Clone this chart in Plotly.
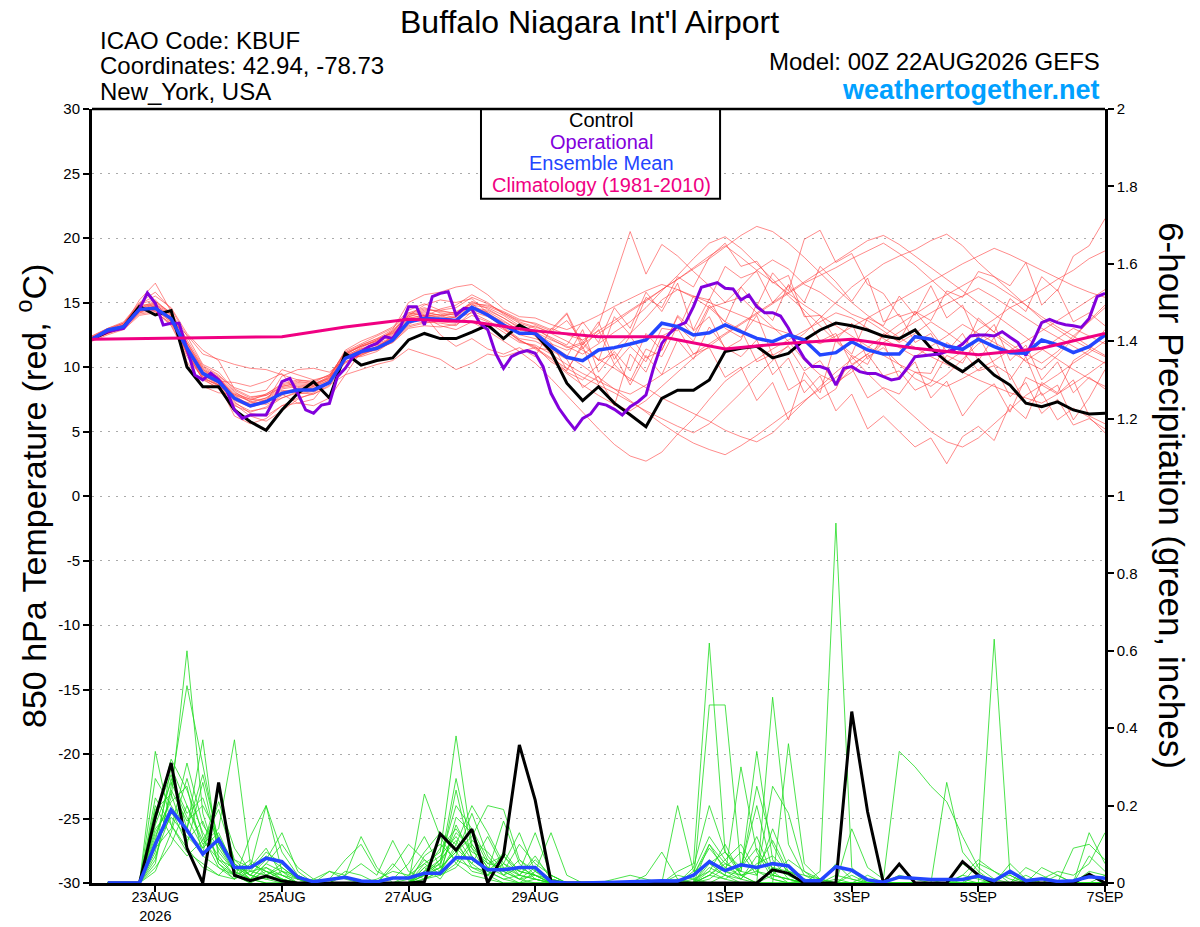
import pandas as pd
import plotly.graph_objects as go

# forecast times (GEFS 00Z 22AUG2026)
times = pd.date_range("2026-08-22 00:00", periods=65, freq="6h")
times_3h = pd.date_range("2026-08-22 00:00", periods=129, freq="3h")
clim_days = pd.date_range("2026-08-22", periods=17, freq="D")
precip_times = times[1:]

x_ticks = ["2026-08-23", "2026-08-25", "2026-08-27", "2026-08-29",
           "2026-09-01", "2026-09-03", "2026-09-05", "2026-09-07"]
x_labels = ["23AUG<br>2026", "25AUG", "27AUG", "29AUG", "1SEP", "3SEP", "5SEP", "7SEP"]
temp_ticks = [-30, -25, -20, -15, -10, -5, 0, 5, 10, 15, 20, 25, 30]
temp_labels = ["-30", "-25", "-20", "-15", "-10", "-5", "0", "5", "10", "15", "20", "25", "30"]
precip_ticks = [0, 0.2, 0.4, 0.6, 0.8, 1.0, 1.2, 1.4, 1.6, 1.8, 2.0]
precip_labels = ["0", "0.2", "0.4", "0.6", "0.8", "1", "1.2", "1.4", "1.6", "1.8", "2"]

# 850 hPa temperature (C)
control_t = [
    12.15, 12.74, 13.1, 14.7, 14.03, 14.37, 10.0, 8.47, 8.47, 6.67,
    5.76, 5.1, 6.67, 7.96, 8.86, 7.6, 11.06, 10.15, 10.5, 10.7,
    12.1, 12.6, 12.2, 12.2, 12.7, 13.25, 12.2, 13.25, 12.6, 11.2,
    8.74, 7.4, 8.47, 7.2, 6.3, 5.37, 7.57, 8.2, 8.2, 9.0,
    11.2, 11.45, 11.6, 10.7, 11.06, 12.1, 12.87, 13.4, 13.2, 12.87,
    12.4, 12.2, 12.87, 11.45, 10.4, 9.64, 10.54, 9.38, 8.6, 7.2,
    6.93, 7.3, 6.67, 6.36, 6.41,
]
mean_t = [
    12.15, 12.87, 13.13, 14.47, 14.55, 13.75, 11.45, 9.51, 8.86, 7.57,
    6.98, 7.31, 7.96, 8.22, 8.22, 8.79, 10.67, 11.19, 11.45, 12.09,
    13.51, 13.75, 13.7, 13.6, 14.63, 14.03, 13.26, 12.61, 12.61, 11.58,
    10.75, 10.49, 11.32, 11.5, 11.78, 12.09, 13.39, 13.13, 12.48, 12.65,
    13.26, 12.74, 12.22, 11.96, 12.5, 12.09, 10.93, 11.11, 11.96, 11.32,
    11.0, 11.0, 12.35, 12.15, 11.63, 11.37, 12.15, 11.58, 11.11, 11.06,
    12.09, 11.71, 11.11, 11.58, 12.48,
]
# operational run, 3-hourly
oper_t = [
    12.15, 12.5, 12.75, 12.87, 13.0, 13.8, 14.5, 15.75, 14.94, 13.26,
    13.39, 13.39, 11.45, 9.38, 9.0, 9.51, 9.0, 8.22, 6.67, 6.02,
    6.28, 6.28, 6.28, 7.44, 8.86, 9.12, 7.96, 6.67, 6.41, 7.05,
    7.18, 9.25, 9.9, 10.8, 11.19, 11.58, 11.83, 12.35, 12.22, 13.13,
    14.68, 14.68, 13.26, 15.45, 15.71, 15.84, 14.03, 14.55, 14.5,
    13.39, 12.9, 11.05, 9.9, 10.8, 11.11, 11.27, 11.06, 10.03, 7.96,
    6.8, 5.94, 5.17, 6.02, 6.36, 7.18, 7.05, 6.72, 6.28, 6.92,
    7.31, 7.83, 10.03, 11.83, 12.61, 13.18, 13.44, 14.68, 16.18, 16.36,
    16.54, 16.1, 16.05, 15.19, 15.58, 14.68, 14.21, 14.21, 13.95, 13.0,
    11.71, 10.67, 10.03, 10.03, 9.82, 8.6, 9.9, 10.03, 9.64, 9.5,
    9.5, 9.25, 9.0, 9.12, 9.9, 10.8, 10.85, 10.9, 11.0, 11.19,
    11.37, 11.78, 12.4, 12.48, 12.48, 12.4, 12.74, 12.3, 11.89, 10.9,
    12.09, 13.44, 13.7, 13.44, 13.28, 13.2, 13.07, 13.77, 15.45, 15.71,
]
# climatology 1981-2010, daily
clim_t = [12.15, 12.2, 12.3, 12.35, 13.1, 13.7, 13.5, 12.8, 12.35,
          12.35, 11.4, 11.85, 12.15, 11.45, 10.95, 11.45, 12.6]

temp_members = [
    [12.3, 12.9, 13.4, 14.9, 15.2, 14.0, 11.2, 9.0, 8.4, 7.0,
     6.5, 6.9, 7.8, 8.4, 8.6, 9.3, 11.2, 11.8, 12.4, 13.0,
     14.2, 14.6, 14.2, 14.0, 15.1, 14.5, 13.8, 13.0, 12.4, 11.0,
     9.6, 9.0, 10.2, 11.4, 12.6, 13.8, 15.2, 16.0, 15.4, 14.6,
     15.0, 16.2, 17.5, 18.3, 17.6, 16.4, 15.8, 14.9, 14.1, 13.6,
     12.8, 11.9, 12.6, 13.5, 12.7, 11.8, 12.9, 13.7, 14.6, 15.2,
     16.0, 16.8, 17.5, 18.4, 19.0],
    [12.1, 12.6, 13.0, 14.2, 14.8, 13.6, 12.5, 11.0, 10.6, 10.2,
     9.9, 9.8, 9.4, 9.0, 8.8, 9.4, 10.8, 10.8, 11.2, 12.0,
     13.3, 13.9, 14.5, 14.8, 15.6, 15.0, 14.1, 13.4, 13.0, 12.2,
     11.5, 11.9, 13.2, 16.8, 20.5, 17.2, 19.5, 18.6, 17.4, 16.3,
     15.0, 15.4, 14.2, 13.1, 12.0, 10.5, 9.4, 8.8, 9.6, 10.8,
     11.5, 10.2, 9.1, 8.5, 9.4, 10.6, 11.8, 12.5, 11.6, 10.4,
     9.8, 10.9, 12.2, 13.6, 14.8],
    [12.2, 12.7, 13.1, 14.6, 14.4, 13.9, 11.0, 9.2, 8.6, 7.3,
     6.4, 6.2, 7.0, 7.6, 7.9, 8.5, 10.4, 11.0, 11.6, 12.3,
     13.6, 13.9, 13.2, 12.9, 13.5, 12.8, 12.0, 11.2, 10.3, 9.1,
     7.8, 6.5, 5.2, 4.0, 3.1, 2.7, 3.4, 4.8, 6.0, 7.5,
     8.9, 9.8, 10.6, 11.4, 12.1, 12.8, 13.5, 14.2, 13.8, 13.0,
     12.2, 11.5, 10.8, 11.6, 12.4, 13.3, 12.6, 11.9, 11.2, 10.5,
     11.3, 12.2, 13.0, 12.4, 11.8],
    [12.4, 13.0, 13.5, 15.0, 15.8, 14.5, 12.4, 10.2, 9.6, 8.2,
     7.6, 7.9, 8.6, 8.9, 8.7, 9.1, 11.0, 11.6, 12.0, 12.8,
     14.0, 14.8, 15.2, 15.0, 15.3, 14.2, 13.0, 12.0, 11.6, 10.4,
     9.7, 11.8, 10.5, 13.9, 12.5, 15.4, 14.6, 17.0, 16.2, 18.5,
     19.6, 17.8, 18.2, 16.5, 17.1, 13.9, 14.0, 12.1, 13.4, 10.6,
     11.9, 9.1, 10.4, 7.6, 8.9, 6.2, 7.8, 8.7, 6.5, 9.2,
     8.6, 7.9, 9.0, 6.2, 5.6],
    [12.0, 12.5, 12.9, 14.0, 14.2, 13.4, 11.3, 9.4, 8.7, 6.2,
     5.6, 6.0, 7.0, 7.2, 7.5, 9.0, 10.6, 11.0, 11.4, 11.9,
     13.1, 13.4, 13.6, 13.9, 14.8, 14.6, 14.0, 13.2, 12.6, 11.9,
     9.8, 11.6, 8.7, 10.2, 8.9, 11.4, 10.8, 13.2, 12.0, 14.6,
     13.5, 12.9, 10.4, 11.0, 8.2, 9.0, 7.5, 8.3, 10.9, 10.2,
     12.6, 12.0, 14.3, 13.6, 15.9, 15.4, 17.4, 17.0, 16.3, 18.1,
     14.8, 16.0, 13.5, 14.2, 13.2],
    [12.2, 12.8, 13.3, 14.4, 14.9, 14.1, 11.9, 10.0, 9.3, 8.4,
     8.0, 8.2, 9.8, 9.4, 9.0, 9.3, 10.3, 10.9, 11.5, 12.4,
     13.8, 14.0, 13.9, 14.3, 14.9, 14.8, 14.3, 13.7, 13.3, 12.8,
     14.1, 11.4, 12.9, 10.2, 11.6, 10.4, 13.0, 12.8, 15.5, 15.2,
     17.8, 16.9, 17.4, 15.0, 16.3, 14.1, 12.0, 12.6, 10.2, 11.0,
     9.3, 9.7, 8.2, 8.8, 10.9, 10.3, 12.4, 10.2, 9.4, 7.1,
     8.0, 5.9, 6.8, 6.1, 4.9],
    [12.3, 12.9, 13.2, 14.7, 14.3, 13.2, 10.8, 9.1, 8.3, 7.1,
     6.2, 5.8, 6.6, 7.5, 8.0, 8.8, 10.9, 11.7, 12.2, 12.6,
     13.4, 13.9, 14.1, 13.8, 14.2, 13.6, 12.9, 12.1, 11.5, 10.7,
     9.9, 9.2, 8.6, 8.0, 7.3, 6.6, 6.0, 5.4, 4.9, 5.6,
     6.8, 8.0, 9.3, 10.5, 11.7, 12.6, 13.8, 15.0, 16.2, 17.1,
     18.0, 18.6, 19.1, 19.8, 20.3, 19.4, 18.1, 17.0, 15.9, 14.8,
     13.7, 12.9, 12.1, 11.4, 10.8],
    [12.1, 12.7, 13.2, 14.5, 15.0, 14.2, 10.4, 8.5, 8.0, 7.9,
     7.3, 7.6, 8.3, 8.5, 8.3, 8.9, 10.8, 11.3, 11.8, 12.3,
     13.7, 14.1, 13.8, 13.9, 14.4, 14.1, 13.5, 12.9, 12.7, 12.1,
     11.6, 11.0, 11.8, 12.7, 13.5, 14.6, 15.9, 17.1, 18.4, 19.6,
     20.1, 19.2, 18.0, 16.8, 15.5, 14.4, 13.2, 12.0, 10.8, 9.5,
     8.3, 7.2, 6.1, 5.0, 4.2, 3.8, 4.5, 5.6, 6.7, 7.8,
     8.6, 9.4, 10.3, 11.1, 12.0],
    [12.2, 12.8, 13.1, 14.3, 14.5, 13.5, 11.1, 9.3, 8.8, 7.4,
     6.9, 7.2, 7.9, 7.2, 7.0, 7.6, 9.4, 11.2, 11.9, 12.6,
     13.9, 14.3, 14.0, 13.6, 14.5, 14.3, 13.6, 12.8, 13.2, 12.6,
     12.0, 11.3, 10.6, 9.9, 9.1, 8.4, 7.6, 7.0, 6.4, 5.8,
     5.1, 4.6, 4.2, 4.9, 6.1, 7.3, 8.5, 9.6, 10.6, 11.5,
     12.4, 13.3, 14.1, 14.9, 15.6, 16.3, 17.0, 16.4, 15.6, 14.8,
     13.9, 13.1, 12.4, 11.6, 10.9],
    [12.3, 12.8, 13.3, 14.6, 14.7, 13.9, 11.4, 9.6, 9.1, 7.7,
     7.1, 7.4, 8.1, 8.3, 8.2, 8.8, 10.9, 11.4, 11.7, 12.2,
     13.5, 13.7, 13.5, 13.4, 14.7, 14.2, 13.4, 12.5, 12.2, 11.8,
     11.3, 11.8, 12.6, 13.4, 14.3, 15.1, 16.0, 16.8, 17.6, 18.4,
     19.3, 20.2, 20.9, 20.5, 19.6, 18.5, 17.3, 16.1, 15.0, 14.0,
     13.1, 12.3, 11.5, 10.8, 10.2, 9.6, 9.0, 8.5, 8.0, 7.6,
     7.2, 7.9, 8.7, 9.5, 10.4],
    [12.1, 12.6, 13.1, 14.4, 14.6, 13.6, 11.7, 9.8, 9.2, 7.8,
     7.0, 7.5, 8.2, 8.0, 7.9, 8.6, 9.4, 9.8, 10.2, 10.5,
     11.4, 11.0, 10.6, 9.8, 10.3, 11.0, 10.8, 11.2, 11.5, 11.3,
     10.6, 8.4, 9.3, 7.0, 11.0, 9.6, 12.4, 13.0, 11.0, 11.5,
     9.2, 10.0, 7.4, 8.8, 5.9, 9.6, 8.0, 12.1, 11.0, 13.8,
     13.2, 15.5, 14.0, 16.3, 13.8, 14.8, 12.0, 13.3, 10.5, 11.7,
     9.0, 10.4, 8.0, 9.2, 8.3],
    [12.2, 12.7, 13.2, 15.2, 16.5, 14.3, 12.1, 10.1, 9.4, 8.1,
     7.3, 7.1, 7.6, 8.1, 8.5, 9.2, 11.3, 12.0, 12.5, 13.1,
     14.4, 14.9, 14.4, 14.1, 14.9, 14.0, 13.0, 12.1, 11.4, 10.6,
     9.5, 8.6, 7.8, 7.1, 6.6, 7.4, 8.5, 9.6, 10.7, 11.6,
     12.5, 13.3, 14.1, 14.9, 15.7, 16.5, 17.1, 17.7, 18.4, 19.0,
     19.6, 18.8, 17.9, 16.8, 15.7, 14.6, 13.6, 12.7, 11.8, 11.0,
     10.3, 11.2, 12.4, 13.5, 14.6],
    [12.3, 12.9, 13.4, 14.8, 14.9, 13.8, 11.5, 9.5, 8.9, 8.8,
     8.5, 8.9, 9.5, 7.9, 8.1, 8.7, 10.7, 11.1, 11.3, 12.0,
     13.2, 13.5, 13.4, 13.2, 14.3, 13.9, 13.2, 12.6, 12.9, 12.3,
     11.7, 13.5, 11.9, 14.6, 13.0, 15.8, 14.3, 16.5, 12.8, 13.9,
     11.4, 12.1, 14.9, 13.6, 16.4, 15.0, 17.8, 16.6, 15.1, 16.9,
     13.5, 14.1, 11.9, 12.6, 10.4, 11.2, 9.7, 10.1, 7.7, 8.8,
     6.4, 7.5, 5.5, 6.0, 5.2],
    [12.2, 12.8, 13.0, 14.2, 14.4, 13.5, 11.2, 9.4, 8.6, 7.5,
     7.2, 7.6, 8.5, 8.7, 8.6, 9.1, 10.8, 11.5, 12.1, 12.7,
     14.1, 14.5, 14.3, 14.2, 15.0, 14.7, 14.2, 13.5, 13.1, 12.7,
     13.6, 12.0, 10.5, 11.0, 8.6, 10.9, 9.4, 12.1, 10.6, 13.1,
     11.5, 10.8, 12.1, 9.4, 10.7, 8.0, 9.3, 6.6, 7.9, 5.2,
     6.2, 5.0, 3.8, 4.5, 2.5, 4.6, 5.4, 4.3, 7.1, 6.0,
     8.8, 8.0, 10.5, 11.3, 12.9],
    [12.1, 12.7, 13.3, 14.7, 14.8, 14.0, 11.8, 9.8, 9.0, 7.8,
     7.4, 7.9, 8.7, 9.0, 8.9, 9.4, 11.1, 11.7, 12.2, 12.9,
     15.0, 15.6, 15.8, 16.2, 16.4, 15.6, 14.5, 13.9, 13.8, 13.3,
     12.9, 13.4, 14.0, 14.7, 15.3, 15.9, 16.4, 16.0, 15.5, 15.0,
     14.5, 14.0, 13.5, 13.0, 12.6, 12.2, 11.8, 12.4, 13.1, 13.8,
     14.5, 15.2, 15.9, 16.6, 17.3, 18.0, 18.6, 19.2, 18.7, 18.1,
     17.5, 16.9, 16.3, 15.8, 15.4],
    [12.3, 12.8, 13.2, 14.4, 14.7, 13.7, 11.4, 9.2, 8.5, 7.2,
     6.6, 6.8, 7.6, 8.0, 8.2, 8.8, 10.4, 10.9, 11.4, 11.9,
     13.0, 13.2, 13.1, 13.3, 14.0, 13.5, 12.7, 11.9, 11.7, 11.0,
     10.2, 9.5, 8.9, 8.3, 7.9, 8.6, 9.4, 10.2, 11.0, 11.8,
     12.6, 13.4, 14.2, 15.0, 15.8, 16.6, 17.4, 18.2, 19.0, 19.8,
     20.2, 19.5, 18.6, 17.7, 16.8, 15.9, 15.0, 14.1, 13.2, 12.3,
     11.4, 10.6, 9.8, 9.1, 8.5],
    [12.2, 12.6, 13.0, 14.1, 14.3, 13.3, 11.0, 9.1, 8.6, 7.5,
     7.0, 7.3, 9.3, 9.8, 9.9, 9.6, 10.6, 11.2, 11.6, 12.2,
     13.6, 14.0, 13.7, 13.6, 14.6, 14.4, 13.8, 13.1, 12.5, 11.7,
     10.9, 10.1, 9.2, 8.3, 7.4, 6.5, 5.6, 4.8, 4.1, 3.6,
     3.2, 3.9, 4.7, 5.6, 6.5, 7.4, 8.3, 9.2, 10.1, 11.0,
     11.9, 12.7, 13.5, 14.2, 14.9, 15.5, 16.1, 15.4, 14.6, 13.8,
     13.0, 12.3, 11.6, 10.9, 10.3],
    [12.4, 13.0, 13.4, 14.9, 15.5, 14.6, 12.6, 11.3, 10.5, 8.3,
     7.7, 7.8, 8.4, 8.6, 8.5, 9.0, 11.0, 11.6, 12.0, 12.7,
     14.0, 14.4, 14.4, 14.6, 15.4, 14.9, 14.2, 13.6, 13.4, 12.9,
     14.2, 11.7, 13.5, 10.6, 12.4, 10.7, 11.3, 13.9, 12.4, 14.8,
     13.5, 16.2, 14.7, 17.3, 15.9, 19.9, 20.6, 18.1, 18.8, 16.4,
     15.7, 13.9, 14.3, 12.8, 11.2, 12.6, 10.5, 12.3, 9.0, 10.8,
     7.8, 8.6, 5.9, 7.6, 9.8],
    [12.1, 12.7, 13.1, 14.3, 14.6, 13.7, 11.6, 9.7, 9.1, 7.9,
     7.5, 7.8, 8.5, 8.8, 8.7, 9.2, 11.1, 11.6, 12.1, 12.8,
     14.2, 14.0, 12.5, 11.6, 12.2, 11.4, 11.0, 11.5, 10.8, 13.0,
     12.5, 12.1, 12.8, 13.6, 14.4, 15.2, 16.0, 16.8, 17.7, 18.6,
     19.4, 18.5, 17.5, 16.6, 15.7, 14.8, 14.0, 13.2, 12.4, 11.6,
     10.9, 10.2, 9.6, 9.0, 8.5, 9.1, 9.8, 10.5, 11.3, 12.0,
     12.8, 13.6, 14.4, 15.2, 16.0],
    [12.2, 12.8, 13.2, 14.6, 15.1, 14.2, 11.9, 9.9, 9.2, 8.0,
     7.5, 7.4, 8.0, 8.3, 8.4, 9.0, 10.7, 11.4, 11.9, 12.5,
     13.9, 14.2, 14.0, 14.1, 14.7, 14.0, 13.1, 12.2, 12.0, 11.4,
     10.8, 12.9, 9.6, 11.2, 9.7, 12.6, 11.3, 14.0, 12.9, 15.3,
     13.0, 12.3, 14.0, 10.9, 11.6, 9.7, 10.5, 8.6, 9.9, 7.6,
     8.4, 7.9, 9.6, 9.5, 11.9, 11.1, 13.8, 12.7, 15.3, 14.3,
     17.0, 15.9, 18.6, 19.4, 21.5],
]

# 6-hour precipitation (inches), valid 06Z 22AUG onward
control_p = [
    0, 0, 0, 0.17, 0.31, 0.09, 0, 0.26,
    0.02, 0.006, 0.018, 0.005, 0, 0, 0, 0,
    0, 0, 0, 0, 0.003, 0.127, 0.085, 0.139,
    0, 0.072, 0.357, 0.214, 0.003, 0, 0, 0,
    0, 0, 0, 0, 0, 0, 0, 0,
    0, 0, 0.034, 0.025, 0, 0, 0, 0.443,
    0.184, 0, 0.049, 0, 0, 0, 0.055, 0.02,
    0, 0, 0, 0, 0, 0, 0.023, 0,
]
mean_p = [
    0, 0, 0, 0.10, 0.189, 0.137, 0.075, 0.113,
    0.04, 0.04, 0.064, 0.055, 0.015, 0.003, 0.008, 0.015,
    0.005, 0.003, 0.013, 0.013, 0.025, 0.025, 0.066, 0.064,
    0.034, 0.034, 0.04, 0.04, 0.003, 0, 0, 0.002,
    0.002, 0.003, 0.005, 0.006, 0.005, 0.02, 0.055, 0.032,
    0.047, 0.04, 0.05, 0.044, 0.006, 0.006, 0.042, 0.033,
    0.008, 0.002, 0.015, 0.011, 0.009, 0.009, 0.009, 0.018,
    0.006, 0.03, 0.006, 0.011, 0.004, 0.006, 0.016, 0.012,
]
precip_members = [
    [0, 0, 0, 0.12, 0.22, 0.60, 0.18, 0.05, 0.02, 0, 0.04, 0.01, 0, 0, 0, 0,
     0, 0, 0, 0, 0.05, 0.08, 0.38, 0.10, 0.04, 0.02, 0, 0.01, 0, 0, 0, 0,
     0, 0, 0, 0, 0, 0.02, 0.10, 0.03, 0.01, 0, 0, 0, 0, 0, 0.02, 0.01,
     0, 0, 0, 0, 0, 0, 0, 0, 0, 0, 0, 0.01, 0.03, 0.02, 0.05, 0.13],
    [0, 0, 0, 0.34, 0.15, 0.08, 0.05, 0.02, 0.06, 0.04, 0.20, 0.08, 0.02, 0, 0, 0,
     0, 0, 0, 0.01, 0.02, 0.04, 0.08, 0.12, 0.20, 0.19, 0.06, 0.02, 0, 0, 0, 0,
     0, 0, 0, 0, 0.03, 0.05, 0.62, 0.08, 0.02, 0, 0, 0, 0, 0, 0, 0,
     0, 0, 0, 0, 0, 0.01, 0, 0, 0, 0, 0, 0, 0, 0, 0, 0],
    [0, 0, 0, 0.05, 0.25, 0.51, 0.30, 0.10, 0.03, 0.01, 0, 0, 0, 0.01, 0.03, 0.02,
     0.12, 0.04, 0, 0, 0.23, 0.12, 0.05, 0.02, 0.01, 0, 0, 0.03, 0.13, 0.02, 0, 0,
     0, 0, 0.02, 0.08, 0.01, 0, 0.46, 0.46, 0.04, 0.12, 0.02, 0.01, 0, 0, 0, 0,
     0, 0, 0, 0, 0, 0, 0, 0, 0.01, 0.02, 0, 0, 0, 0, 0, 0],
    [0, 0, 0, 0.18, 0.28, 0.14, 0.37, 0.06, 0.02, 0, 0.02, 0.05, 0.01, 0, 0, 0,
     0, 0, 0.04, 0.10, 0.06, 0.03, 0.15, 0.07, 0.03, 0.01, 0, 0, 0, 0, 0, 0,
     0, 0, 0, 0, 0.20, 0.03, 0.05, 0.02, 0.30, 0.08, 0.01, 0, 0, 0, 0.01, 0,
     0, 0, 0, 0, 0, 0, 0, 0, 0, 0, 0, 0, 0, 0, 0, 0],
    [0, 0, 0, 0.08, 0.30, 0.20, 0.10, 0.14, 0.37, 0.05, 0.03, 0.01, 0, 0, 0, 0,
     0, 0, 0, 0, 0.03, 0.05, 0.27, 0.09, 0.02, 0, 0, 0, 0, 0, 0, 0,
     0, 0, 0, 0, 0, 0, 0.02, 0.05, 0.03, 0.34, 0.06, 0.01, 0, 0, 0, 0,
     0, 0, 0, 0, 0, 0, 0.02, 0.01, 0, 0, 0, 0, 0, 0, 0, 0],
    [0, 0, 0, 0.03, 0.13, 0.27, 0.12, 0.04, 0.01, 0.12, 0.20, 0.03, 0.01, 0, 0, 0,
     0, 0, 0, 0.02, 0.08, 0.13, 0.10, 0.05, 0.12, 0.04, 0.01, 0, 0, 0, 0, 0,
     0, 0, 0, 0, 0, 0, 0.10, 0.05, 0.03, 0.25, 0.10, 0.02, 0, 0.03, 0.93, 0.04,
     0, 0, 0, 0, 0, 0, 0, 0, 0, 0, 0, 0, 0, 0, 0, 0],
    [0, 0, 0, 0.14, 0.19, 0.10, 0.26, 0.08, 0.03, 0.01, 0.05, 0.10, 0.04, 0.01, 0, 0,
     0, 0, 0, 0, 0.02, 0.06, 0.20, 0.14, 0.06, 0.03, 0.10, 0.05, 0.02, 0, 0, 0,
     0, 0, 0, 0, 0, 0, 0, 0.02, 0, 0, 0.48, 0.10, 0.02, 0, 0, 0,
     0, 0, 0, 0, 0, 0, 0, 0, 0, 0, 0, 0, 0, 0, 0, 0],
    [0, 0, 0, 0.22, 0.15, 0.09, 0.04, 0.02, 0.01, 0.03, 0.08, 0.05, 0.02, 0, 0.01, 0.06,
     0.10, 0.03, 0.01, 0.05, 0.12, 0.04, 0.08, 0.03, 0.02, 0.05, 0.13, 0.03, 0, 0, 0, 0,
     0, 0, 0, 0, 0, 0, 0, 0, 0, 0, 0, 0.36, 0.05, 0.01, 0, 0,
     0, 0, 0, 0, 0, 0, 0, 0, 0.63, 0.02, 0, 0, 0, 0, 0, 0],
    [0, 0, 0, 0.10, 0.17, 0.12, 0.08, 0.21, 0.09, 0.03, 0.02, 0.04, 0.01, 0, 0, 0,
     0, 0, 0, 0, 0.04, 0.07, 0.12, 0.06, 0.03, 0.07, 0.02, 0.01, 0, 0, 0, 0,
     0.01, 0.02, 0.01, 0, 0, 0.04, 0.20, 0.08, 0.03, 0.02, 0.25, 0.18, 0.03, 0.01, 0, 0.14,
     0.04, 0.01, 0.34, 0.30, 0.25, 0.21, 0.12, 0.04, 0.01, 0, 0, 0, 0, 0, 0, 0],
    [0, 0, 0, 0.06, 0.24, 0.16, 0.20, 0.12, 0.05, 0.02, 0.01, 0.03, 0.02, 0, 0, 0.02,
     0.05, 0.02, 0.11, 0.03, 0.01, 0.02, 0.05, 0.11, 0.08, 0.03, 0.01, 0.02, 0, 0, 0, 0,
     0, 0, 0, 0, 0.02, 0.01, 0, 0, 0, 0, 0, 0, 0.01, 0, 0, 0,
     0, 0, 0, 0, 0, 0.26, 0.08, 0.03, 0, 0, 0, 0, 0.02, 0, 0.13, 0.05],
    [0, 0, 0, 0.16, 0.32, 0.24, 0.13, 0.07, 0.02, 0.01, 0.03, 0.02, 0, 0, 0, 0,
     0, 0, 0, 0, 0.01, 0.03, 0.10, 0.20, 0.13, 0.05, 0.03, 0.02, 0.01, 0, 0, 0,
     0, 0, 0, 0, 0, 0, 0.03, 0.01, 0, 0, 0.02, 0.06, 0.03, 0, 0, 0,
     0, 0, 0, 0, 0, 0, 0, 0.05, 0.03, 0, 0.04, 0.02, 0, 0, 0, 0],
    [0, 0, 0, 0.04, 0.10, 0.20, 0.11, 0.06, 0.04, 0.02, 0.06, 0.13, 0.03, 0, 0, 0,
     0, 0.01, 0.03, 0.02, 0.05, 0.02, 0.17, 0.13, 0.05, 0.04, 0.02, 0.07, 0.01, 0, 0, 0,
     0, 0, 0, 0, 0, 0, 0.02, 0.06, 0.10, 0.03, 0.01, 0, 0, 0, 0, 0,
     0, 0, 0.02, 0.01, 0, 0, 0, 0, 0, 0.05, 0.01, 0, 0, 0.09, 0.10, 0.06],
    [0, 0, 0, 0.27, 0.20, 0.13, 0.09, 0.24, 0.05, 0.01, 0, 0, 0, 0, 0, 0,
     0, 0, 0, 0, 0.07, 0.10, 0.06, 0.04, 0.03, 0.16, 0.05, 0.01, 0, 0, 0, 0,
     0, 0, 0, 0, 0, 0, 0.04, 0.02, 0.01, 0.07, 0.04, 0.03, 0.01, 0, 0.05, 0.01,
     0, 0, 0, 0, 0, 0, 0, 0, 0, 0, 0, 0, 0, 0, 0, 0],
    [0, 0, 0, 0.09, 0.14, 0.31, 0.15, 0.09, 0.03, 0.06, 0.02, 0.01, 0, 0, 0.03, 0.01,
     0, 0, 0, 0, 0.03, 0.09, 0.14, 0.08, 0.06, 0.02, 0.04, 0.02, 0, 0, 0, 0,
     0, 0, 0, 0, 0, 0.02, 0.09, 0.04, 0.08, 0.02, 0.14, 0.04, 0.01, 0, 0, 0,
     0, 0, 0, 0, 0, 0, 0, 0, 0, 0.03, 0, 0, 0, 0, 0, 0],
    [0, 0, 0, 0.11, 0.27, 0.18, 0.22, 0.10, 0.04, 0.03, 0.04, 0.02, 0, 0, 0, 0.03,
     0.02, 0, 0, 0, 0.01, 0.03, 0.09, 0.05, 0.02, 0.08, 0.03, 0.13, 0.02, 0, 0, 0,
     0, 0, 0, 0, 0, 0.01, 0.03, 0.10, 0.02, 0, 0.04, 0.02, 0, 0, 0, 0,
     0, 0, 0, 0, 0, 0, 0, 0.02, 0, 0, 0, 0.04, 0.02, 0, 0, 0],
    [0, 0, 0, 0.20, 0.12, 0.07, 0.11, 0.19, 0.06, 0.02, 0.07, 0.04, 0.01, 0, 0, 0,
     0, 0, 0, 0, 0.04, 0.01, 0.07, 0.18, 0.07, 0.02, 0.06, 0.03, 0.01, 0, 0, 0,
     0, 0, 0, 0, 0, 0, 0.05, 0.08, 0.04, 0.20, 0.03, 0, 0, 0, 0, 0,
     0, 0, 0, 0, 0, 0, 0, 0, 0, 0, 0, 0, 0, 0, 0.07, 0.03],
    [0, 0, 0, 0.07, 0.18, 0.14, 0.28, 0.11, 0.05, 0.02, 0.01, 0, 0, 0, 0, 0,
     0, 0, 0, 0, 0.02, 0.04, 0.24, 0.06, 0.03, 0.01, 0.02, 0.06, 0.02, 0, 0, 0,
     0, 0, 0, 0, 0.01, 0, 0.01, 0.04, 0.02, 0.03, 0.02, 0.01, 0, 0, 0, 0,
     0.02, 0, 0, 0, 0, 0, 0, 0, 0, 0, 0, 0, 0, 0, 0, 0.02],
    [0, 0, 0, 0.13, 0.21, 0.25, 0.07, 0.04, 0.02, 0.04, 0.09, 0.02, 0.01, 0, 0, 0,
     0, 0, 0.05, 0.01, 0.06, 0.02, 0.04, 0.10, 0.04, 0.03, 0.01, 0.04, 0.01, 0, 0, 0,
     0, 0, 0, 0, 0, 0.03, 0.12, 0.06, 0.01, 0.05, 0.07, 0.03, 0.02, 0.01, 0, 0,
     0, 0, 0, 0, 0, 0, 0.05, 0.02, 0, 0, 0, 0, 0, 0, 0, 0],
    [0, 0, 0, 0.19, 0.23, 0.11, 0.16, 0.05, 0.01, 0.05, 0.03, 0.01, 0, 0, 0, 0,
     0, 0, 0, 0, 0.03, 0.06, 0.11, 0.04, 0.02, 0.05, 0.02, 0.01, 0, 0, 0, 0,
     0, 0, 0, 0, 0, 0, 0.02, 0.01, 0.04, 0.09, 0.02, 0.01, 0, 0, 0, 0.02,
     0, 0, 0, 0, 0, 0, 0.02, 0.06, 0.03, 0.01, 0, 0, 0, 0, 0.03, 0.02],
    [0, 0, 0, 0.15, 0.26, 0.17, 0.09, 0.13, 0.04, 0.01, 0.05, 0.03, 0, 0, 0, 0,
     0, 0, 0, 0, 0.02, 0.05, 0.13, 0.09, 0.05, 0.07, 0.03, 0.02, 0, 0, 0, 0,
     0, 0, 0, 0, 0, 0, 0.06, 0.03, 0.02, 0.04, 0.11, 0.03, 0.01, 0, 0, 0.03,
     0, 0, 0, 0, 0, 0, 0.01, 0, 0, 0, 0.02, 0, 0, 0, 0, 0],
]

RED = "rgba(255,60,60,0.75)"
GREEN = "rgb(30,220,30)"
BLACK = "black"
PURPLE = "rgb(130,0,220)"
BLUE = "rgb(35,70,255)"
PINK = "rgb(240,0,130)"
FONT = "Liberation Sans, Arial, Helvetica, sans-serif"

fig = go.Figure()

for m in temp_members:
    fig.add_trace(go.Scatter(x=times, y=m, mode="lines",
                             line=dict(color=RED, width=0.8), hoverinfo="skip"))
for m in precip_members:
    fig.add_trace(go.Scatter(x=precip_times, y=m, mode="lines", yaxis="y2",
                             line=dict(color=GREEN, width=0.8), hoverinfo="skip"))

fig.add_trace(go.Scatter(x=precip_times, y=control_p, mode="lines", yaxis="y2",
                         line=dict(color=BLACK, width=3), name="Control precip"))
fig.add_trace(go.Scatter(x=precip_times, y=mean_p, mode="lines", yaxis="y2",
                         line=dict(color=BLUE, width=3.5), name="Mean precip"))

fig.add_trace(go.Scatter(x=times, y=control_t, mode="lines",
                         line=dict(color=BLACK, width=3), name="Control"))
fig.add_trace(go.Scatter(x=times_3h, y=oper_t, mode="lines",
                         line=dict(color=PURPLE, width=3), name="Operational"))
fig.add_trace(go.Scatter(x=times, y=mean_t, mode="lines",
                         line=dict(color=BLUE, width=3.5), name="Ensemble Mean"))
fig.add_trace(go.Scatter(x=clim_days, y=clim_t, mode="lines",
                         line=dict(color=PINK, width=3), name="Climatology (1981-2010)"))

# page body has an 8px margin, so the figure is offset by that much
fig.update_layout(
    width=1200, height=927,
    margin=dict(l=84, r=103, t=101, b=52),
    paper_bgcolor="white", plot_bgcolor="white",
    showlegend=False,
    font=dict(family=FONT, color="black", size=15),
    xaxis=dict(
        type="date", range=["2026-08-22 00:00", "2026-09-07 00:00"],
        tickvals=x_ticks, ticktext=x_labels, automargin=False,
        ticks="outside", ticklen=6, tickwidth=1.5, tickcolor="black",
        ticklabelstandoff=-7,
        showline=True, linecolor="black", linewidth=3,
        showgrid=False, zeroline=False, tickfont=dict(size=14.5),
    ),
    yaxis=dict(
        range=[-30, 30], tickvals=temp_ticks, ticktext=temp_labels, automargin=False,
        ticks="outside", ticklen=6, tickwidth=1.5, tickcolor="black",
        showline=True, linecolor="black", linewidth=3,
        showgrid=True, gridcolor="#aaaaaa", gridwidth=1, griddash="2px,6px",
        zeroline=False, tickfont=dict(size=15),
    ),
    yaxis2=dict(
        range=[0, 2], tickvals=precip_ticks, ticktext=precip_labels, automargin=False,
        overlaying="y", side="right",
        ticks="outside", ticklen=6, tickwidth=1.5, tickcolor="black",
        showline=True, linecolor="black", linewidth=2.5,
        showgrid=False, zeroline=False, tickfont=dict(size=15),
    ),
)

# legend box
fig.add_shape(type="rect", xref="paper", yref="paper",
              x0=0.384, x1=0.620, y0=0.884, y1=1.0,
              fillcolor="white", line=dict(color="black", width=2), layer="above")
fig.add_shape(type="line", xref="paper", yref="paper",
              x0=0, x1=1, y0=1, y1=1, line=dict(color="black", width=2.5), layer="above")

legend_items = [("Control", BLACK, 0.9855), ("Operational", PURPLE, 0.958),
                ("Ensemble Mean", BLUE, 0.930), ("Climatology (1981-2010)", PINK, 0.902)]
for txt, col, yy in legend_items:
    fig.add_annotation(text=txt, xref="paper", yref="paper", x=0.5025, y=yy,
                       showarrow=False, font=dict(size=20, color=col, family=FONT),
                       xanchor="center", yanchor="middle")

fig.add_annotation(text="Buffalo Niagara Int'l Airport", xref="paper", yref="paper",
                   x=0.4916, y=1.113, showarrow=False, xanchor="center", yanchor="middle",
                   font=dict(size=32, family=FONT))
for txt, yy in [("ICAO Code: KBUF", 1.089), ("Coordinates: 42.94, -78.73", 1.0556),
                ("New_York, USA", 1.022)]:
    fig.add_annotation(text=txt, xref="paper", yref="paper", x=0.0059, y=yy,
                       showarrow=False, xanchor="left", yanchor="middle",
                       font=dict(size=24, family=FONT))
fig.add_annotation(text="Model: 00Z 22AUG2026 GEFS", xref="paper", yref="paper",
                   x=0.997, y=1.061, showarrow=False, xanchor="right", yanchor="middle",
                   font=dict(size=24, family=FONT))
fig.add_annotation(text="<b>weathertogether.net</b>", xref="paper", yref="paper",
                   x=0.997, y=1.0245, showarrow=False, xanchor="right", yanchor="middle",
                   font=dict(size=27, family=FONT, color="rgb(0,160,255)"))

fig.add_annotation(text="850 hPa Temperature (red, <sup>o</sup>C)", xref="paper", yref="paper",
                   x=-0.0602, y=0.50, showarrow=False, textangle=-90,
                   xanchor="center", yanchor="middle", font=dict(size=34, family=FONT))
fig.add_annotation(text="6-hour Precipitation (green, inches)", xref="paper", yref="paper",
                   x=1.066, y=0.50, showarrow=False, textangle=90,
                   xanchor="center", yanchor="middle", font=dict(size=35, family=FONT))

fig.write_html("out.html")
